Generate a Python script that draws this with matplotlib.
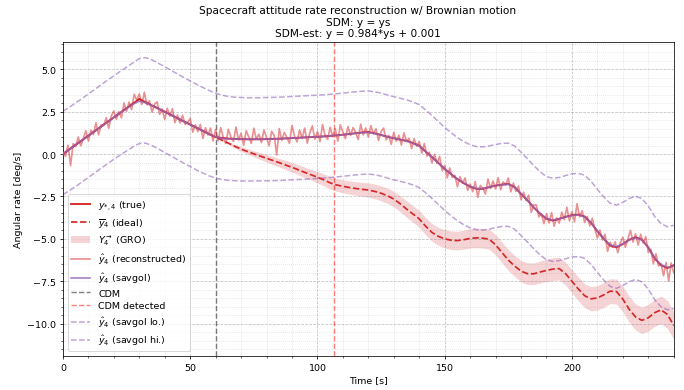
import numpy as np
import matplotlib
matplotlib.use("Agg")
import matplotlib.pyplot as plt
from matplotlib.ticker import MultipleLocator

# time grids [s]
t_coarse = np.arange(0, 240.01, 2.5)
t_fine = np.arange(0, 241, 1.0)
t_cdm = 60.0
t_cdm_detected = 106.5

# true rate y*,4 (2.5 s grid)
y_true = [0.00, 0.27, 0.54, 0.81, 1.08, 1.35, 1.62, 1.89, 2.16, 2.43, 2.70, 2.97, 3.24,
          3.05, 2.86, 2.68, 2.49, 2.30, 2.11, 1.92, 1.74, 1.55, 1.36, 1.17, 1.00,
          0.95, 0.91, 0.89, 0.88, 0.87, 0.87, 0.87, 0.88, 0.89, 0.90, 0.92, 0.94,
          0.96, 0.98, 1.00, 1.02, 1.04, 1.07, 1.10, 1.14, 1.18, 1.23, 1.27, 1.30,
          1.22, 1.12, 1.02, 0.93, 0.85, 0.78, 0.65, 0.49, 0.15, -0.18, -0.52, -0.88,
          -1.18, -1.48, -1.72, -1.92, -2.05, -2.05, -1.95, -1.86, -1.80, -1.76, -1.95, -2.35,
          -2.72, -3.15, -3.52, -3.82, -3.92, -3.82, -3.70, -3.60, -3.57, -3.68, -4.05, -4.55,
          -5.00, -5.40, -5.50, -5.30, -5.05, -4.90, -5.05, -5.50, -6.15, -6.55, -6.72, -6.55]

# savgol filtered estimate (2.5 s grid)
y_savgol = [0.02, 0.28, 0.54, 0.81, 1.08, 1.35, 1.62, 1.89, 2.16, 2.42, 2.68, 2.93, 3.12,
            3.02, 2.85, 2.67, 2.49, 2.30, 2.11, 1.92, 1.74, 1.55, 1.37, 1.18, 1.02,
            0.92, 0.89, 0.88, 0.87, 0.87, 0.87, 0.87, 0.88, 0.89, 0.90, 0.92, 0.94,
            0.96, 0.98, 1.00, 1.02, 1.04, 1.07, 1.10, 1.14, 1.18, 1.22, 1.26, 1.27,
            1.21, 1.12, 1.02, 0.93, 0.85, 0.77, 0.64, 0.47, 0.14, -0.19, -0.53, -0.88,
            -1.18, -1.47, -1.71, -1.91, -2.03, -2.04, -1.95, -1.87, -1.81, -1.78, -1.96, -2.34,
            -2.72, -3.14, -3.50, -3.80, -3.89, -3.82, -3.71, -3.62, -3.59, -3.70, -4.05, -4.53,
            -4.98, -5.36, -5.46, -5.30, -5.07, -4.93, -5.07, -5.50, -6.12, -6.52, -6.68, -6.60]

# savgol lower / upper bounds (2.5 s grid, smoother than the estimate)
y_savgol_lo = [-2.40, -2.16, -1.91, -1.65, -1.38, -1.11, -0.84, -0.57, -0.31, -0.06, 0.18, 0.42, 0.62,
               0.64, 0.50, 0.30, 0.09, -0.12, -0.33, -0.54, -0.74, -0.94, -1.12, -1.29, -1.42,
               -1.50, -1.55, -1.57, -1.59, -1.59, -1.59, -1.58, -1.58, -1.57, -1.56, -1.54, -1.52,
               -1.50, -1.48, -1.46, -1.44, -1.41, -1.38, -1.35, -1.31, -1.27, -1.23, -1.20, -1.18,
               -1.22, -1.30, -1.41, -1.52, -1.61, -1.70, -1.82, -1.98, -2.28, -2.62, -2.97, -3.32,
               -3.64, -3.93, -4.17, -4.35, -4.46, -4.48, -4.42, -4.34, -4.27, -4.26, -4.43, -4.80,
               -5.18, -5.58, -5.95, -6.23, -6.33, -6.28, -6.17, -6.07, -6.04, -6.15, -6.50, -6.98,
               -7.43, -7.80, -7.91, -7.75, -7.52, -7.39, -7.53, -7.96, -8.58, -9.00, -9.18, -9.10]
y_savgol_hi = [2.52, 2.76, 3.01, 3.27, 3.54, 3.81, 4.08, 4.35, 4.61, 4.87, 5.12, 5.37, 5.62,
               5.68, 5.55, 5.35, 5.14, 4.93, 4.72, 4.51, 4.31, 4.11, 3.92, 3.74, 3.58,
               3.47, 3.39, 3.35, 3.33, 3.32, 3.32, 3.32, 3.33, 3.34, 3.35, 3.37, 3.39,
               3.41, 3.43, 3.45, 3.47, 3.49, 3.52, 3.55, 3.59, 3.63, 3.67, 3.70, 3.72,
               3.67, 3.59, 3.48, 3.38, 3.29, 3.20, 3.07, 2.91, 2.60, 2.27, 1.92, 1.57,
               1.26, 0.97, 0.73, 0.55, 0.44, 0.42, 0.48, 0.56, 0.63, 0.64, 0.47, 0.11,
               -0.28, -0.68, -1.05, -1.33, -1.43, -1.38, -1.27, -1.17, -1.14, -1.25, -1.60, -2.08,
               -2.53, -2.90, -3.01, -2.85, -2.62, -2.49, -2.63, -3.06, -3.68, -4.10, -4.28, -4.20]

# ideal trajectory y-bar_4 (2.5 s grid)
y_ideal = [0.00, 0.27, 0.54, 0.81, 1.08, 1.35, 1.62, 1.89, 2.16, 2.43, 2.70, 2.97, 3.24,
           3.05, 2.86, 2.68, 2.49, 2.30, 2.11, 1.92, 1.74, 1.55, 1.36, 1.17, 1.00,
           0.82, 0.64, 0.46, 0.29, 0.15, 0.01, -0.12, -0.25, -0.38, -0.51, -0.65, -0.78,
           -0.93, -1.08, -1.22, -1.37, -1.52, -1.70, -1.82, -1.90, -1.97, -2.03, -2.08, -2.12,
           -2.20, -2.31, -2.46, -2.65, -2.93, -3.24, -3.53, -3.82, -4.25, -4.62, -4.85, -5.00,
           -5.08, -5.10, -5.05, -4.97, -4.94, -4.96, -5.02, -5.35, -5.80, -6.25, -6.60, -6.90,
           -7.05, -7.06, -6.95, -6.86, -6.78, -6.75, -7.05, -7.50, -7.95, -8.35, -8.53, -8.48,
           -8.30, -8.08, -8.10, -8.55, -9.15, -9.60, -9.80, -9.65, -9.35, -9.18, -9.45, -10.10]

# GRO band half width around the ideal trajectory (2.5 s grid)
gro_half = [0.00] * 25 + [
    0.05, 0.08, 0.11, 0.14, 0.16, 0.18, 0.20, 0.22,
    0.24, 0.25, 0.27, 0.28, 0.30, 0.31, 0.32, 0.34,
    0.35, 0.36, 0.37, 0.38, 0.39, 0.40, 0.41, 0.42,
    0.43, 0.44, 0.45, 0.46, 0.47, 0.48, 0.49, 0.50,
    0.51, 0.52, 0.53, 0.54, 0.55, 0.55, 0.56, 0.57,
    0.58, 0.58, 0.59, 0.60, 0.61, 0.61, 0.62, 0.63,
    0.64, 0.64, 0.65, 0.66, 0.67, 0.67, 0.68, 0.69,
    0.70, 0.70, 0.71, 0.72, 0.73, 0.73, 0.74, 0.75,
    0.76, 0.77, 0.78, 0.79, 0.80, 0.81, 0.82, 0.83]

# reconstructed (noisy) rate, 1 s grid
y_recon = [0.12, -0.14, 0.52, -0.68, 0.61, 0.44, 1.00, 0.48, 0.91, 1.37,
           0.76, 1.41, 1.15, 1.85, 1.13, 1.72, 1.68, 2.14, 1.52, 2.25,
           2.54, 2.05, 2.50, 2.13, 3.01, 2.52, 3.06, 2.62, 3.52, 3.18,
           3.54, 2.92, 3.64, 2.90, 3.14, 2.47, 2.94, 3.07, 2.34, 2.65,
           2.04, 2.70, 2.24, 2.67, 1.85, 2.30, 1.83, 2.29, 1.75, 1.87,
           2.10, 1.29, 1.72, 1.32, 1.75, 0.92, 1.55, 1.12, 1.53, 0.77,
           1.45, 0.78, 1.56, 0.99, 0.62, 1.46, 1.00, 0.74, 1.59, 0.83,
           1.23, 0.52, 1.37, 1.02, 0.62, 1.52, 0.87, 1.17, 0.67, 1.42,
           0.98, 0.48, 1.34, 1.09, -0.05, 1.50, 0.81, 1.27, 0.98, 0.63,
           1.69, 1.05, 0.71, 1.42, 0.93, 1.53, 0.64, 1.25, 1.66, 0.87,
           1.32, 0.73, 1.74, 1.10, 0.86, 1.57, 1.03, 1.49, 0.76, 1.72,
           1.29, 0.91, 1.62, 1.09, 1.56, 1.28, 0.85, 1.76, 1.13, 1.54,
           1.00, 1.67, 1.18, 1.49, 0.80, 1.32, 1.53, 0.84, 1.10, 0.57,
           1.28, 0.75, 1.11, 0.53, 1.25, 0.73, 0.93, 0.33, 0.90, 0.45,
           0.74, 0.05, 0.62, -0.12, 0.10, -0.53, -0.02, -0.55, -0.14, -0.98,
           -0.68, -1.40, -0.82, -1.39, -1.26, -1.93, -1.33, -1.72, -1.41, -2.14,
           -1.77, -2.22, -1.62, -2.55, -1.85, -2.00, -2.36, -1.47, -2.03, -1.59,
           -2.06, -1.39, -2.11, -1.64, -1.83, -1.41, -2.23, -1.71, -2.20, -1.89,
           -2.70, -2.25, -2.75, -2.42, -3.43, -3.00, -3.00, -3.70, -3.53, -4.10,
           -3.52, -4.06, -3.45, -4.25, -3.76, -4.07, -3.42, -3.87, -3.13, -3.94,
           -3.40, -3.99, -2.93, -3.70, -3.34, -4.03, -3.68, -4.23, -3.78, -4.43,
           -4.95, -4.48, -5.06, -4.73, -5.74, -5.20, -5.49, -5.18, -5.81, -5.23,
           -4.90, -5.50, -5.00, -4.50, -5.19, -4.70, -5.36, -4.72, -5.24, -4.87,
           -5.80, -5.61, -6.47, -5.88, -6.59, -6.45, -7.17, -6.39, -7.48, -6.42,
           -7.00]

y_true = np.array(y_true)
y_ideal = np.array(y_ideal)
gro_half = np.array(gro_half)

fig = plt.figure(figsize=(10, 5.716), dpi=68.4)
ax = fig.add_axes([0.092, 0.087, 0.893, 0.803])

ax.plot(t_coarse, y_true, color="tab:red", lw=2, label=r"$y_{*,4}$ (true)", zorder=4)
ax.plot(t_coarse, y_ideal, color="tab:red", lw=1.8, ls="--", label=r"$\overline{y}_4$ (ideal)", zorder=4)
ax.fill_between(t_coarse, y_ideal - gro_half, y_ideal + gro_half, color="tab:red", alpha=0.2,
                lw=0, label=r"$Y_4^{\rightarrow}$ (GRO)")
ax.plot(t_fine, y_recon, color="tab:red", alpha=0.5, lw=1.8, label=r"$\hat{y}_4$ (reconstructed)", zorder=3)
ax.plot(t_coarse, y_savgol, color="tab:purple", alpha=0.8, lw=1.8, label=r"$\hat{y}_4$ (savgol)", zorder=5)
ax.axvline(t_cdm, color="k", alpha=0.5, ls="--", lw=1.5, label="CDM")
ax.axvline(t_cdm_detected, color="red", alpha=0.5, ls="--", lw=1.5, label="CDM detected")
ax.plot(t_coarse, y_savgol_lo, color="tab:purple", alpha=0.6, ls="--", lw=1.6,
        label=r"$\hat{y}_4$ (savgol lo.)")
ax.plot(t_coarse, y_savgol_hi, color="tab:purple", alpha=0.6, ls="--", lw=1.6,
        label=r"$\hat{y}_4$ (savgol hi.)")

ax.set_xlim(0, 240)
ax.set_ylim(-11.9, 6.6)
ax.xaxis.set_minor_locator(MultipleLocator(10))
ax.yaxis.set_minor_locator(MultipleLocator(0.5))
ax.grid(which="major", ls="--", color="gray", alpha=0.5)
ax.grid(which="minor", ls=":", color="gray", alpha=0.3)

ax.set_xlabel("Time [s]")
ax.set_ylabel("Angular rate [deg/s]")
ax.set_title("Spacecraft attitude rate reconstruction w/ Brownian motion\n"
             "SDM: y = ys\nSDM-est: y = 0.984*ys + 0.001", fontsize=11, x=0.483)
ax.legend(loc="lower left", labelspacing=0.4)

fig.savefig("out.png", dpi=68.4)
